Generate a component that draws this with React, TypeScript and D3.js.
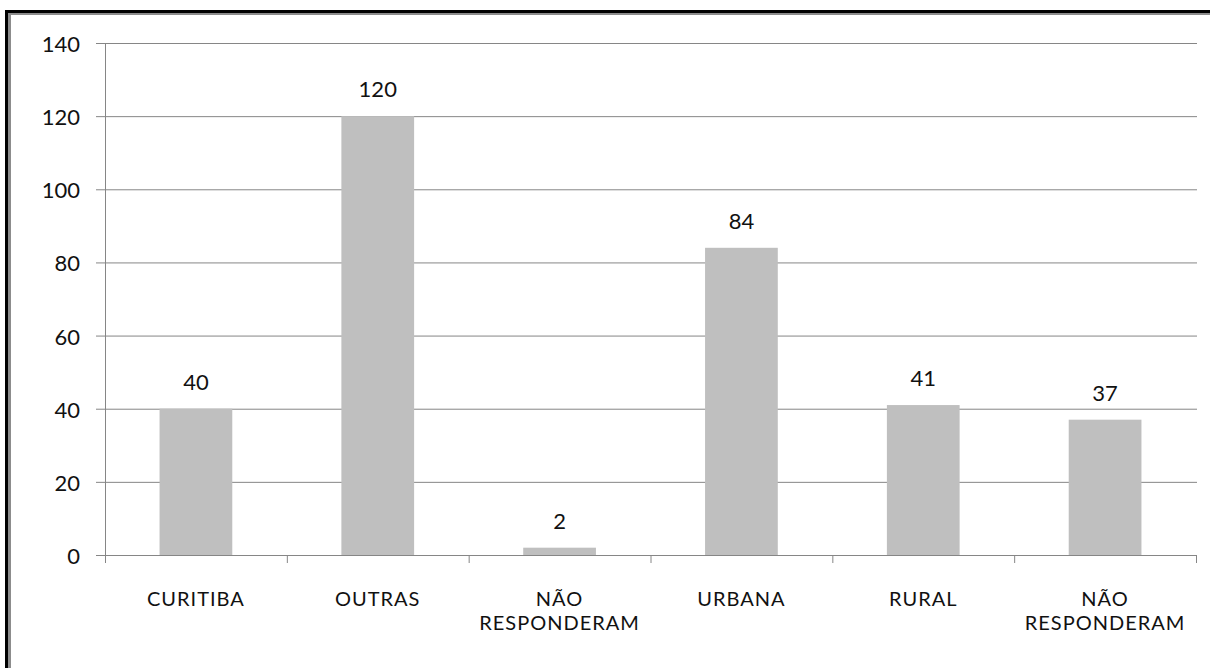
import React from "react";
import * as d3 from "d3";

const categories = ["CURITIBA", "OUTRAS", "NÃO RESPONDERAM", "URBANA", "RURAL", "NÃO RESPONDERAM "];
const categoryLines = [["CURITIBA"], ["OUTRAS"], ["NÃO", "RESPONDERAM"], ["URBANA"], ["RURAL"], ["NÃO", "RESPONDERAM"]];
const values = [40, 120, 2, 84, 41, 37];
const yTicks = [0, 20, 40, 60, 80, 100, 120, 140];

const W = 1210;
const H = 668;
const left = 105;
const right = 1196;
const top = 43;
const bottom = 555;
const font = "Lato, 'Open Sans', sans-serif";

export default function App() {
  const x = d3.scaleBand<string>().domain(categories).range([left, right]).paddingInner(0.6).paddingOuter(0.3);
  const y = d3.scaleLinear().domain([0, 140]).range([bottom, top]);
  const step = (right - left) / categories.length;
  const grid = "#868686";

  return (
    <svg width={W} height={H} style={{ position: "absolute", left: 0, top: 0, background: "#fff" }}>
      {/* frame */}
      <rect x={5} y={10} width={W - 5} height={3} fill="#000" />
      <rect x={5} y={10} width={3} height={H - 10} fill="#000" />
      <rect x={8} y={13} width={W - 8} height={2} fill="#8c8c8c" />
      <rect x={8} y={13} width={3} height={H - 13} fill="#8c8c8c" />

      {/* gridlines */}
      {yTicks.map((t) => (
        <g key={t}>
          <line x1={96} x2={right + 1} y1={y(t) + 0.5} y2={y(t) + 0.5} stroke={grid} strokeWidth={1} />
          <text x={80} y={y(t) + 9} textAnchor="end" fontFamily={font} fontSize={22} fill="#111">
            {t}
          </text>
        </g>
      ))}
      {/* y axis */}
      <line x1={left + 0.5} x2={left + 0.5} y1={top} y2={bottom + 8} stroke={grid} strokeWidth={1} />
      {/* category ticks */}
      {categories.map((c, i) => (
        <line key={"t" + i} x1={left + step * (i + 1) + 0.5} x2={left + step * (i + 1) + 0.5} y1={bottom} y2={bottom + 8} stroke={grid} strokeWidth={1} />
      ))}

      {/* bars */}
      {categories.map((c, i) => (
        <rect key={"b" + i} x={x(c)} y={y(values[i])} width={x.bandwidth()} height={bottom - y(values[i])} fill="#bfbfbf" />
      ))}
      {/* redraw baseline over bars */}
      <line x1={96} x2={right + 1} y1={bottom + 0.5} y2={bottom + 0.5} stroke={grid} strokeWidth={1} />

      {/* value labels */}
      {categories.map((c, i) => (
        <text key={"v" + i} x={(x(c) as number) + x.bandwidth() / 2} y={y(values[i]) - 19} textAnchor="middle" fontFamily={font} fontSize={22} fill="#111">
          {values[i]}
        </text>
      ))}

      {/* category labels */}
      {categories.map((c, i) => (
        <text key={"c" + i} x={(x(c) as number) + x.bandwidth() / 2} textAnchor="middle" fontFamily={font} fontSize={20} letterSpacing={1} fill="#111">
          {categoryLines[i].map((l, j) => (
            <tspan key={j} x={(x(c) as number) + x.bandwidth() / 2} y={606 + j * 24}>
              {l}
            </tspan>
          ))}
        </text>
      ))}
    </svg>
  );
}
